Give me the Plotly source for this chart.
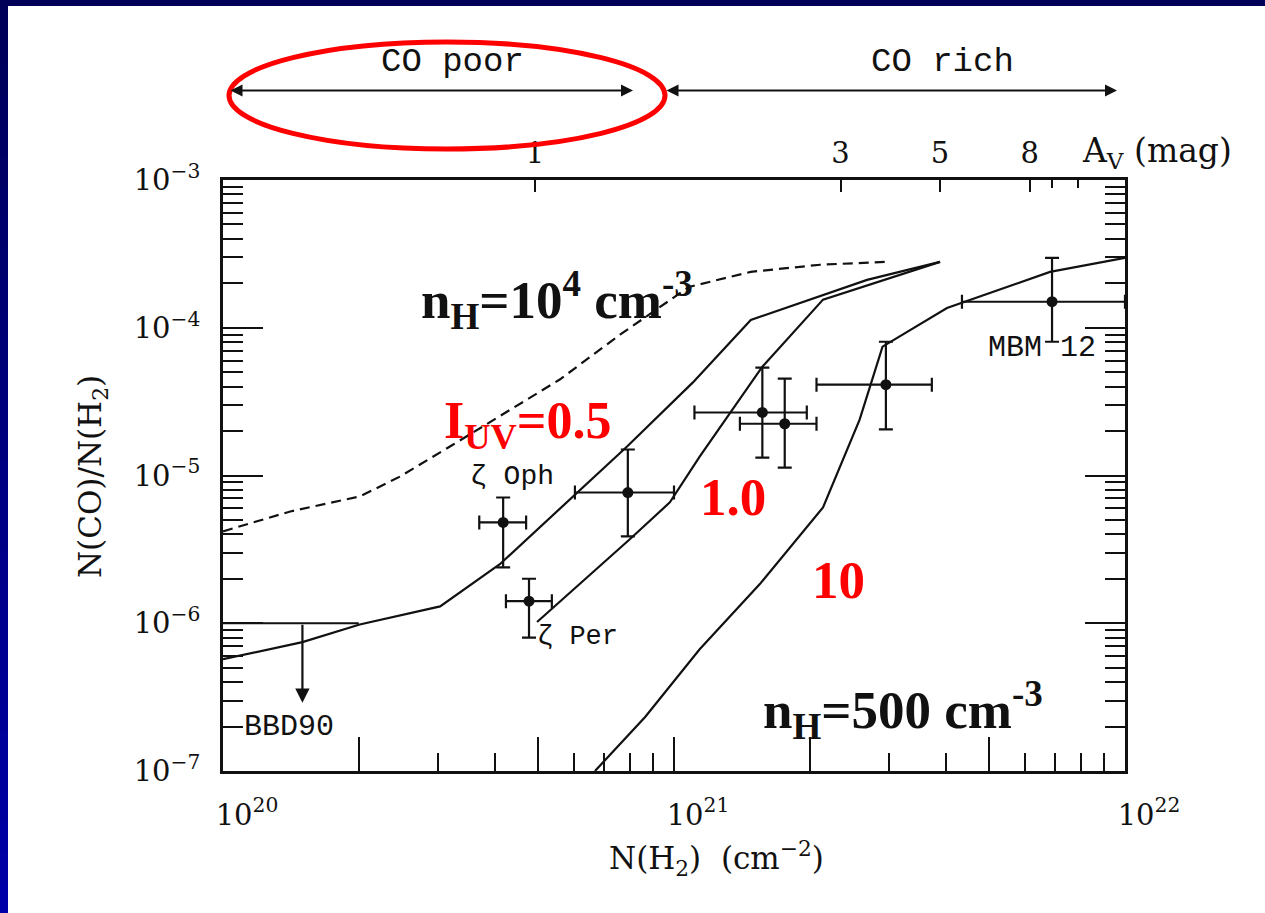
import numpy as np
import plotly.graph_objects as go

# ---- model curves: N(H2) [cm^-2] against N(CO)/N(H2) ----
# dense gas, n_H = 1e4 cm^-3 (dashed)
dense_N = [1.00e20, 1.41e20, 2.01e20, 2.47e20, 3.24e20, 4.33e20, 5.58e20,
           7.59e20, 1.08e21, 1.48e21, 2.11e21, 2.94e21]
dense_ratio = [4.19e-6, 5.71e-6, 7.21e-6, 9.84e-6, 1.62e-5, 2.79e-5, 4.46e-5,
               8.97e-5, 1.89e-4, 2.39e-4, 2.67e-4, 2.79e-4]

# n_H = 500 cm^-3, I_UV = 0.5
iuv05_N = [1.00e20, 1.50e20, 2.01e20, 3.03e20, 4.11e20, 5.97e20, 7.87e20,
           1.10e21, 1.48e21, 2.68e21, 3.89e21]
iuv05_ratio = [5.71e-7, 7.45e-7, 9.8e-7, 1.30e-6, 2.51e-6, 7.21e-6, 1.57e-5,
               4.25e-5, 1.13e-4, 2.11e-4, 2.79e-4]

# n_H = 500 cm^-3, I_UV = 1.0
iuv1_N = [4.97e20, 7.98e20, 9.79e20, 1.14e21, 1.57e21, 2.14e21, 3.89e21]
iuv1_ratio = [1.02e-6, 3.70e-6, 6.58e-6, 1.34e-5, 5.45e-5, 1.55e-4, 2.79e-4]

# n_H = 500 cm^-3, I_UV = 10
iuv10_N = [6.68e20, 8.63e20, 1.14e21, 1.55e21, 2.14e21, 2.58e21, 2.90e21,
           4.03e21, 6.82e21, 1.00e22]
iuv10_ratio = [1.0e-7, 2.32e-7, 6.67e-7, 1.84e-6, 6.08e-6, 2.39e-5, 7.45e-5,
               1.36e-4, 2.39e-4, 2.97e-4]

# ---- observed sight lines ----
obs_name = ["zeta Oph", "zeta Per", "", "", "", "", "MBM 12"]
obs_N = [4.18e20, 4.77e20, 7.90e20, 1.57e21, 1.76e21, 2.95e21, 6.89e21]
obs_N_lo = [3.70e20, 4.24e20, 6.03e20, 1.11e21, 1.40e21, 2.07e21, 4.35e21]
obs_N_hi = [4.70e20, 5.36e20, 1.00e21, 1.97e21, 2.07e21, 3.73e21, 1.00e22]
obs_ratio = [4.81e-6, 1.41e-6, 7.67e-6, 2.67e-5, 2.24e-5, 4.12e-5, 1.50e-4]
obs_ratio_lo = [2.39e-6, 8.0e-7, 3.87e-6, 1.32e-5, 1.13e-5, 2.05e-5, 8.04e-5]
obs_ratio_hi = [7.1e-6, 2.0e-6, 1.50e-5, 5.37e-5, 4.52e-5, 8.04e-5, 2.97e-4]

# BBD90 upper limit
bbd_N_span = [1.0e20, 2.0e20]
bbd_N = 1.5e20
bbd_ratio = 1.0e-6
bbd_arrow_tip = 2.9e-7

# visual extinction scale along the top
av_labels = ["1", "3", "5", "8"]
av_N = [4.92e20, 2.34e21, 3.89e21, 6.15e21]
av_minor_N = [6.89e21, 7.87e21]

# axis ticks
x_major = [1e20, 2e20, 5e20, 1e21, 2e21, 5e21, 1e22]
x_major_text = ["10<sup>20</sup>", "", "", "10<sup>21</sup>", "", "", "10<sup>22</sup>"]
x_minor = [m * 10.0 ** e for e in (20, 21) for m in (3, 4, 6, 7, 8, 9)]
y_major = [1e-7, 1e-6, 1e-5, 1e-4, 1e-3]
y_major_text = ["10<sup>\u22127</sup>", "10<sup>\u22126</sup>", "10<sup>\u22125</sup>",
                "10<sup>\u22124</sup>", "10<sup>\u22123</sup>"]
y_minor = [m * 10.0 ** e for e in (-7, -6, -5, -4) for m in range(2, 10)]

# ---- page geometry ----
W, H = 1265, 913
ML, MR, MT, MB = 223, 140, 180, 142
PW, PH = W - ML - MR, H - MT - MB


def px(x):
    return (x - ML) / PW


def py(y):
    return (H - MB - y) / PH


SERIF = "DejaVu Serif"
MONO = "Liberation Mono"
TIMES = "Liberation Serif"
INK = "#111111"
RED = "#ff0000"
NAVY = "rgb(0,0,88)"

fig = go.Figure()

line_style = dict(color=INK, width=2.2)
fig.add_trace(go.Scatter(x=dense_N, y=dense_ratio, mode="lines",
                         line=dict(color=INK, width=2.2, dash="10px,6px"), hoverinfo="skip"))
for xs, ys in ((iuv05_N, iuv05_ratio), (iuv1_N, iuv1_ratio), (iuv10_N, iuv10_ratio)):
    fig.add_trace(go.Scatter(x=xs, y=ys, mode="lines", line=line_style, hoverinfo="skip"))

# upper limit bar
fig.add_trace(go.Scatter(x=bbd_N_span, y=[bbd_ratio, bbd_ratio], mode="lines",
                         line=line_style, hoverinfo="skip"))

# observations with error bars
fig.add_trace(go.Scatter(
    x=obs_N, y=obs_ratio, mode="markers",
    marker=dict(color=INK, size=11),
    error_x=dict(type="data", symmetric=False,
                 array=[h - v for h, v in zip(obs_N_hi, obs_N)],
                 arrayminus=[v - l for v, l in zip(obs_N, obs_N_lo)],
                 color=INK, thickness=2.2, width=7),
    error_y=dict(type="data", symmetric=False,
                 array=[h - v for h, v in zip(obs_ratio_hi, obs_ratio)],
                 arrayminus=[v - l for v, l in zip(obs_ratio, obs_ratio_lo)],
                 color=INK, thickness=2.2, width=7),
    text=obs_name, hoverinfo="text"))

# carrier for the A_V axis along the top
fig.add_trace(go.Scatter(x=av_N, y=[1e-3] * len(av_N), xaxis="x2", yaxis="y",
                         mode="markers", marker=dict(opacity=0), hoverinfo="skip"))

shapes = []
# slide background: white sheet over a navy frame
shapes.append(dict(type="rect", xref="paper", yref="paper", layer="below",
                   x0=px(8), x1=px(W + 5), y0=py(H + 5), y1=py(6),
                   fillcolor="white", line=dict(width=0)))
n_bands = 30
for i in range(n_bands):
    t = i / (n_bands - 1)
    c = "rgb(0,0,%d)" % int(90 + t * 78)
    shapes.append(dict(type="rect", xref="paper", yref="paper", layer="below",
                       x0=px(-1), x1=px(8), y0=py(6 + (H - 6) * (i + 1) / n_bands + 1),
                       y1=py(6 + (H - 6) * i / n_bands),
                       fillcolor=c, line=dict(width=0)))
shapes.append(dict(type="rect", xref="paper", yref="paper", layer="below",
                   x0=px(-1), x1=px(W + 5), y0=py(6), y1=py(-1),
                   fillcolor=NAVY, line=dict(width=0)))
# red ellipse around the CO-poor regime
shapes.append(dict(type="circle", xref="paper", yref="paper",
                   x0=px(229), x1=px(665), y0=py(149), y1=py(42),
                   line=dict(color=RED, width=5)))

ann = []


def label(text, xx, yy, family, size, color=INK, **kw):
    ann.append(dict(x=px(xx), y=py(yy), xref="paper", yref="paper", text=text,
                    xanchor="center", yanchor="middle", showarrow=False,
                    font=dict(family=family, size=size, color=color), **kw))


# regime arrows
for x_left, x_right in ((229, 633), (665, 1117)):
    ann.append(dict(x=px(x_right), y=py(90.5), xref="paper", yref="paper",
                    ax=-(x_right - x_left), ay=0, axref="pixel", ayref="pixel",
                    text="", showarrow=True, arrowhead=2, startarrowhead=2,
                    arrowside="end+start", arrowsize=1.2, arrowwidth=2, arrowcolor=INK))
label("CO poor", 452, 62, MONO, 34)
label("CO rich", 942, 62, MONO, 34)
label("A<sub>V</sub> (mag)", 1157, 152, SERIF, 33)

# BBD90 arrow
ann.append(dict(x=np.log10(bbd_N), y=np.log10(bbd_arrow_tip), xref="x", yref="y",
                ax=np.log10(bbd_N), ay=np.log10(bbd_ratio), axref="x", ayref="y",
                text="", showarrow=True, arrowhead=2, arrowsize=1.3, arrowwidth=2.2,
                arrowcolor=INK))

# sight-line labels
label("\u03b6 Oph", 512, 476, MONO, 28)
label("\u03b6 Per", 577, 637, MONO, 27)
label("BBD90", 289, 727, MONO, 30)
label("MBM 12", 1042, 348, MONO, 30)

# model labels
label("<b>n<sub>H</sub>=10<sup>4</sup> cm<sup>-3</sup></b>", 557, 300, TIMES, 53)
label("<b>I<sub>UV</sub>=0.5</b>", 527, 424, TIMES, 52, RED)
label("<b>1.0</b>", 733, 497, TIMES, 53, RED)
label("<b>10</b>", 838, 580, TIMES, 53, RED)
label("<b>n<sub>H</sub>=500 cm<sup>-3</sup></b>", 903, 710, TIMES, 53)

# axis titles
label("N(H<sub>2</sub>)  (cm<sup>\u22122</sup>)", 716, 858, SERIF, 31)
label("N(CO)/N(H<sub>2</sub>)", 92, 477, SERIF, 31, textangle=-90)

tickfont = dict(family=SERIF, size=29, color=INK)
fig.update_layout(
    width=W, height=H, autosize=False,
    margin=dict(l=ML, r=MR, t=MT, b=MB, pad=0),
    paper_bgcolor=NAVY, plot_bgcolor="white",
    showlegend=False,
    shapes=shapes, annotations=ann,
    xaxis=dict(type="log", range=[20, 22], showgrid=False, zeroline=False,
               showline=True, linecolor=INK, linewidth=2.5, mirror=True,
               ticks="inside", ticklen=34, tickwidth=2, tickcolor=INK,
               tickmode="array", tickvals=x_major, ticktext=x_major_text,
               tickfont=tickfont, ticklabelshift=24, ticklabelstandoff=16,
               minor=dict(tickmode="array", tickvals=x_minor, ticks="inside",
                          ticklen=18, tickwidth=2, tickcolor=INK, showgrid=False)),
    xaxis2=dict(type="log", range=[20, 22], overlaying="x", side="top", anchor="y",
                showgrid=False, zeroline=False, showline=False,
                ticks="inside", ticklen=12, tickwidth=2, tickcolor=INK,
                tickmode="array", tickvals=av_N, ticktext=av_labels,
                tickfont=tickfont, ticklabelstandoff=10,
                minor=dict(tickmode="array", tickvals=av_minor_N, ticks="inside",
                           ticklen=8, tickwidth=2, tickcolor=INK, showgrid=False)),
    yaxis=dict(type="log", range=[-7, -3], showgrid=False, zeroline=False,
               showline=True, linecolor=INK, linewidth=2.5, mirror="ticks",
               ticks="inside", ticklen=40, tickwidth=2, tickcolor=INK,
               tickmode="array", tickvals=y_major, ticktext=y_major_text,
               tickfont=tickfont, ticklabelstandoff=14,
               minor=dict(tickmode="array", tickvals=y_minor, ticks="inside",
                          ticklen=20, tickwidth=2, tickcolor=INK, showgrid=False)),
)

fig.write_html("out.html")
